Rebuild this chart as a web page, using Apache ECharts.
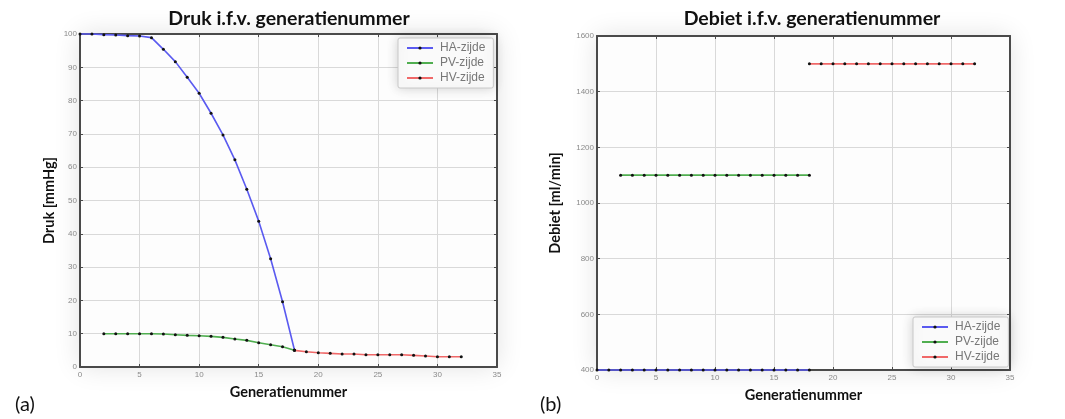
<!DOCTYPE html>
<html>
<head>
<meta charset="utf-8">
<script src="https://cdn.jsdelivr.net/npm/echarts@6/dist/echarts.min.js"></script>
<style>
html,body{margin:0;padding:0;background:#fff;}
#c{width:1065px;height:419px;}
</style>
</head>
<body>
<div id="c"></div>
<script>
// ---- Data ----
var titleA = 'Druk i.f.v. generatienummer';
var titleB = 'Debiet i.f.v. generatienummer';
var seriesNames = ['HA-zijde', 'PV-zijde', 'HV-zijde'];
var xName = 'Generatienummer';
var yNameA = 'Druk [mmHg]';
var yNameB = 'Debiet [ml/min]';

// (a) Druk
var genHA = [0,1,2,3,4,5,6,7,8,9,10,11,12,13,14,15,16,17,18];
var drukHA = [100,100,99.8,99.7,99.5,99.4,98.9,95.4,91.7,87.0,82.2,76.2,69.7,62.2,53.4,43.8,32.5,19.6,5.1];
var genPV = [2,3,4,5,6,7,8,9,10,11,12,13,14,15,16,17,18];
var drukPV = [10,10,10,10,10,9.9,9.7,9.5,9.4,9.2,8.9,8.4,8.0,7.3,6.7,6.1,5.0];
var genHV = [18,19,20,21,22,23,24,25,26,27,28,29,30,31,32];
var drukHV = [5.0,4.6,4.3,4.1,3.9,3.9,3.7,3.7,3.7,3.7,3.5,3.3,3.1,3.1,3.1];

// (b) Debiet
var debietHA = [400,400,400,400,400,400,400,400,400,400,400,400,400,400,400,400,400,400,400];
var debietPV = [1100,1100,1100,1100,1100,1100,1100,1100,1100,1100,1100,1100,1100,1100,1100,1100,1100];
var debietHV = [1500,1500,1500,1500,1500,1500,1500,1500,1500,1500,1500,1500,1500,1500,1500];

var colors = ['#5a5af0', '#50ae50', '#f06868'];

function pairs(xs, ys){ return xs.map(function(x,i){ return [x, ys[i]]; }); }

var chart = echarts.init(document.getElementById('c'), null, {renderer:'canvas'});

var labelStyle = {fontSize: 8, color: '#8a8a8a', fontFamily: 'Liberation Sans', formatter: function(v){ return String(v); }};
var boldName = {fontSize: 14.5, fontWeight: 'bold', color: '#111', fontFamily: 'Lato'};

function mkX(gi, pos, showLabel){
  return {
    type: 'value', gridIndex: gi, min: 0, max: 35, interval: 5, position: pos,
    name: showLabel ? xName : '', nameLocation: 'middle', nameGap: 18, nameTextStyle: boldName,
    axisLine: {show: true, onZero: false, lineStyle: {color: '#4a4a4a', width: 2}},
    axisTick: {show: true, inside: true, length: 3, lineStyle: {color: '#4a4a4a'}},
    axisLabel: {show: showLabel, margin: 4, ...labelStyle},
    splitLine: {show: showLabel, lineStyle: {color: '#d9d9d9', width: 1}}
  };
}
function mkY(gi, pos, showLabel, min, max, interval, name, gap){
  return {
    type: 'value', gridIndex: gi, min: min, max: max, interval: interval, position: pos,
    name: showLabel ? name : '', nameLocation: 'middle', nameGap: gap, nameRotate: 90, nameTextStyle: boldName,
    axisLine: {show: true, onZero: false, lineStyle: {color: '#4a4a4a', width: 2}},
    axisTick: {show: true, inside: true, length: 3, lineStyle: {color: '#4a4a4a'}},
    axisLabel: {show: showLabel, margin: 3, ...labelStyle},
    splitLine: {show: showLabel, lineStyle: {color: '#d9d9d9', width: 1}}
  };
}

function mkSeries(name, data, xi, yi, ci){
  return {
    type: 'line', name: name, xAxisIndex: xi, yAxisIndex: yi, data: data,
    symbol: 'circle', symbolSize: 3, showSymbol: true, clip: false,
    itemStyle: {color: '#111'},
    lineStyle: {color: colors[ci], width: 1.6},
    emphasis: {disabled: true}, z: 3
  };
}

var legendBase = {
  orient: 'vertical', data: seriesNames, itemWidth: 26, itemHeight: 4, itemGap: 3,
  textStyle: {fontSize: 12, color: '#777', fontFamily: 'Liberation Sans', padding: [0,0,0,2]},
  backgroundColor: '#fafafa', borderColor: '#c8c8c8', borderWidth: 1, borderRadius: 2,
  padding: [4, 8, 4, 8], shadowBlur: 12, shadowColor: 'rgba(0,0,0,0.18)', selectedMode: false
};

var titleFont = {fontSize: 19.5, fontWeight: 'bold', color: '#111', fontFamily: 'Lato'};

var option = {
  animation: false,
  backgroundColor: '#ffffff',
  title: [
    {text: titleA, left: 284, top: 4, textAlign: 'center', textStyle: titleFont},
    {text: titleB, left: 807, top: 4, textAlign: 'center', textStyle: titleFont},
    {text: '(a)', left: 10, top: 390, textStyle: {fontSize: 20, fontWeight: 'normal', color: '#111', fontFamily: 'Lato'}},
    {text: '(b)', left: 535, top: 390, textStyle: {fontSize: 20, fontWeight: 'normal', color: '#111', fontFamily: 'Lato'}}
  ],
  grid: [
    {left: 80, top: 34, width: 417, height: 333, show: true, backgroundColor: '#fdfdfd', borderWidth: 0,
     shadowBlur: 25, shadowColor: 'rgba(0,0,0,0.12)'},
    {left: 597, top: 36, width: 413, height: 334, show: true, backgroundColor: '#fdfdfd', borderWidth: 0,
     shadowBlur: 25, shadowColor: 'rgba(0,0,0,0.12)'}
  ],
  legend: [
    Object.assign({}, legendBase, {left: 398, top: 38}),
    Object.assign({}, legendBase, {left: 913, top: 317})
  ],
  xAxis: [mkX(0, 'bottom', true), mkX(0, 'top', false), mkX(1, 'bottom', true), mkX(1, 'top', false)],
  yAxis: [
    mkY(0, 'left', true, 0, 100, 10, yNameA, 23), mkY(0, 'right', false, 0, 100, 10, '', 0),
    mkY(1, 'left', true, 400, 1600, 200, yNameB, 34), mkY(1, 'right', false, 400, 1600, 200, '', 0)
  ],
  series: [
    mkSeries(seriesNames[0], pairs(genHA, drukHA), 0, 0, 0),
    mkSeries(seriesNames[1], pairs(genPV, drukPV), 0, 0, 1),
    mkSeries(seriesNames[2], pairs(genHV, drukHV), 0, 0, 2),
    mkSeries(seriesNames[0], pairs(genHA, debietHA), 2, 2, 0),
    mkSeries(seriesNames[1], pairs(genPV, debietPV), 2, 2, 1),
    mkSeries(seriesNames[2], pairs(genHV, debietHV), 2, 2, 2)
  ]
};
chart.setOption(option);
</script>
</body>
</html>
